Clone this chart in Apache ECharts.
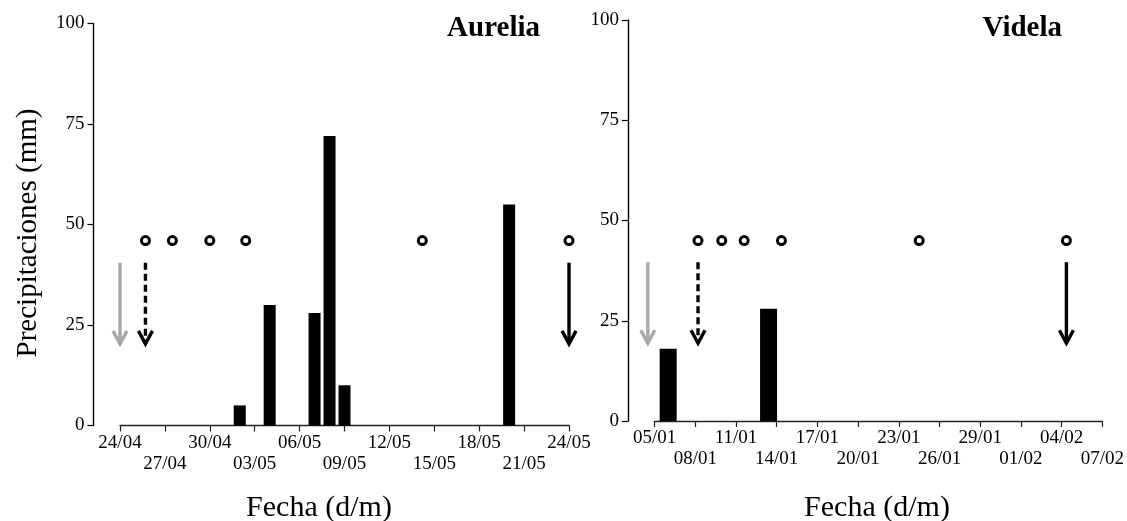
<!DOCTYPE html>
<html>
<head>
<meta charset="utf-8">
<script src="https://cdn.jsdelivr.net/npm/echarts@6/dist/echarts.min.js"></script>
<style>
  html, body { margin: 0; padding: 0; background: #fff; }
  #chart { width: 1127px; height: 521px; }
</style>
</head>
<body>
<div id="chart"></div>
<script>
// Days are counted from the first tick of each panel (24/04 and 05/01).
const aureliaTicks = ['24/04','27/04','30/04','03/05','06/05','09/05','12/05','15/05','18/05','21/05','24/05'];
const videlaTicks  = ['05/01','08/01','11/01','14/01','17/01','20/01','23/01','26/01','29/01','01/02','04/02','07/02'];

// Daily rainfall (mm)
const aureliaRainDays = [8, 10, 13, 14, 15, 26];
const aureliaRain     = [5, 30, 28, 72, 10, 55];
const videlaRainDays  = [1, 8.4];
const videlaRain      = [18, 28];

// Sampling dates (circles) and their plotted level
const aureliaSampleDays = [1.7, 3.5, 6, 8.4, 20.2, 30];
const aureliaSampleLevel = 46;
const videlaSampleDays  = [3.2, 4.95, 6.6, 9.35, 19.5, 30.35];
const videlaSampleLevel = 45;

// Event arrows: day, kind
const aureliaArrowDays  = [0, 1.7, 30];
const videlaArrowDays   = [-0.5, 3.2, 30.35];
const arrowKinds        = ['gray', 'dashed', 'solid'];
const aureliaArrowSpan  = [40.5, 20.3];
const videlaArrowSpan   = [39.6, 19.4];

const FONT = '"Liberation Serif", "Times New Roman", serif';

function zip(xs, ys) { return xs.map((x, i) => [x, ys[i]]); }

function arrowData(days, span) {
  return days.map((d, i) => [d, span[0], span[1], i]);
}

function renderArrow(params, api) {
  const x = api.value(0);
  const top = api.coord([x, api.value(1)]);
  const tip = api.coord([x, api.value(2)]);
  const kind = arrowKinds[api.value(3)];
  const color = kind === 'gray' ? '#a8a8a8' : '#000';
  const lw = 3.4;
  const hw = 7, hh = 13;
  return {
    type: 'group',
    children: [
      {
        type: 'line',
        shape: { x1: top[0], y1: top[1], x2: tip[0], y2: tip[1] - 2 },
        style: { stroke: color, lineWidth: lw, lineDash: kind === 'dashed' ? [7, 4] : null }
      },
      {
        type: 'polyline',
        shape: { points: [[tip[0] - hw, tip[1] - hh], [tip[0], tip[1]], [tip[0] + hw, tip[1] - hh]] },
        style: { stroke: color, lineWidth: lw, fill: null, lineJoin: 'miter' }
      }
    ]
  };
}

// Two stacked x axes per panel: even tick labels on the first row, odd ones on the second.
function xAxesFor(gridIndex, max, ticks) {
  const labelBase = { color: '#000', fontFamily: FONT, fontSize: 19, hideOverlap: false, showMinLabel: true, showMaxLabel: true };
  const pick = (parity) => function (v) {
    const i = Math.round(v / 3);
    return i % 2 === parity ? (ticks[i] || '') : '';
  };
  return [
    {
      type: 'value', gridIndex: gridIndex, min: 0, max: max, interval: 3,
      axisLine: { show: true, onZero: false, lineStyle: { color: '#222', width: 1.4 } },
      axisTick: { show: true, length: 6, lineStyle: { color: '#222', width: 1.2 } },
      splitLine: { show: false },
      axisLabel: Object.assign({ margin: 8, formatter: pick(0) }, labelBase)
    },
    {
      type: 'value', gridIndex: gridIndex, min: 0, max: max, interval: 3, position: 'bottom',
      axisLine: { show: false, onZero: false },
      axisTick: { show: false },
      splitLine: { show: false },
      axisLabel: Object.assign({ margin: 29, formatter: pick(1) }, labelBase)
    }
  ];
}

function yAxisFor(gridIndex, offset) {
  return {
    type: 'value', gridIndex: gridIndex, min: 0, max: 100, interval: 25, offset: offset,
    axisLine: { show: true, onZero: false, lineStyle: { color: '#000', width: 1.4 } },
    axisTick: { show: true, length: 6, lineStyle: { color: '#000', width: 1.2 } },
    splitLine: { show: false },
    axisLabel: { color: '#000', fontFamily: FONT, fontSize: 19, margin: 9 }
  };
}

const chart = echarts.init(document.getElementById('chart'), null, { renderer: 'canvas' });

chart.setOption({
  animation: false,
  backgroundColor: '#fff',
  grid: [
    { left: 120, right: 558, top: 23.5, bottom: 95.5 },
    { left: 654.6, right: 24.1, top: 20, bottom: 100 }
  ],
  xAxis: xAxesFor(0, 30, aureliaTicks).concat(xAxesFor(1, 33, videlaTicks)),
  yAxis: [ yAxisFor(0, 26.5), yAxisFor(1, 26.7) ],
  graphic: [
    { type: 'text', x: 540, y: 28.5, style: { text: 'Aurelia', font: 'bold 29px ' + FONT, fill: '#000', align: 'right', verticalAlign: 'middle' } },
    { type: 'text', x: 1062, y: 28.5, style: { text: 'Videla', font: 'bold 29px ' + FONT, fill: '#000', align: 'right', verticalAlign: 'middle' } },
    { type: 'text', x: 28, y: 233, rotation: Math.PI / 2, style: { text: 'Precipitaciones (mm)', font: '29px ' + FONT, fill: '#000', align: 'center', verticalAlign: 'middle' } },
    { type: 'text', x: 319, y: 508, style: { text: 'Fecha (d/m)', font: '30px ' + FONT, fill: '#000', align: 'center', verticalAlign: 'middle' } },
    { type: 'text', x: 877, y: 508, style: { text: 'Fecha (d/m)', font: '30px ' + FONT, fill: '#000', align: 'center', verticalAlign: 'middle' } }
  ],
  series: [
    { type: 'bar', xAxisIndex: 0, yAxisIndex: 0, barWidth: 12, itemStyle: { color: '#000' }, data: zip(aureliaRainDays, aureliaRain) },
    { type: 'bar', xAxisIndex: 2, yAxisIndex: 1, barWidth: 17, itemStyle: { color: '#000' }, data: zip(videlaRainDays, videlaRain) },
    { type: 'scatter', xAxisIndex: 0, yAxisIndex: 0, symbol: 'circle', symbolSize: 8, itemStyle: { color: '#fff', borderColor: '#000', borderWidth: 3, opacity: 1 },
      data: aureliaSampleDays.map(d => [d, aureliaSampleLevel]) },
    { type: 'scatter', xAxisIndex: 2, yAxisIndex: 1, symbol: 'circle', symbolSize: 8, itemStyle: { color: '#fff', borderColor: '#000', borderWidth: 3, opacity: 1 },
      data: videlaSampleDays.map(d => [d, videlaSampleLevel]) },
    { type: 'custom', xAxisIndex: 0, yAxisIndex: 0, clip: false, renderItem: renderArrow, data: arrowData(aureliaArrowDays, aureliaArrowSpan) },
    { type: 'custom', xAxisIndex: 2, yAxisIndex: 1, clip: false, renderItem: renderArrow, data: arrowData(videlaArrowDays, videlaArrowSpan) }
  ]
});
</script>
</body>
</html>
